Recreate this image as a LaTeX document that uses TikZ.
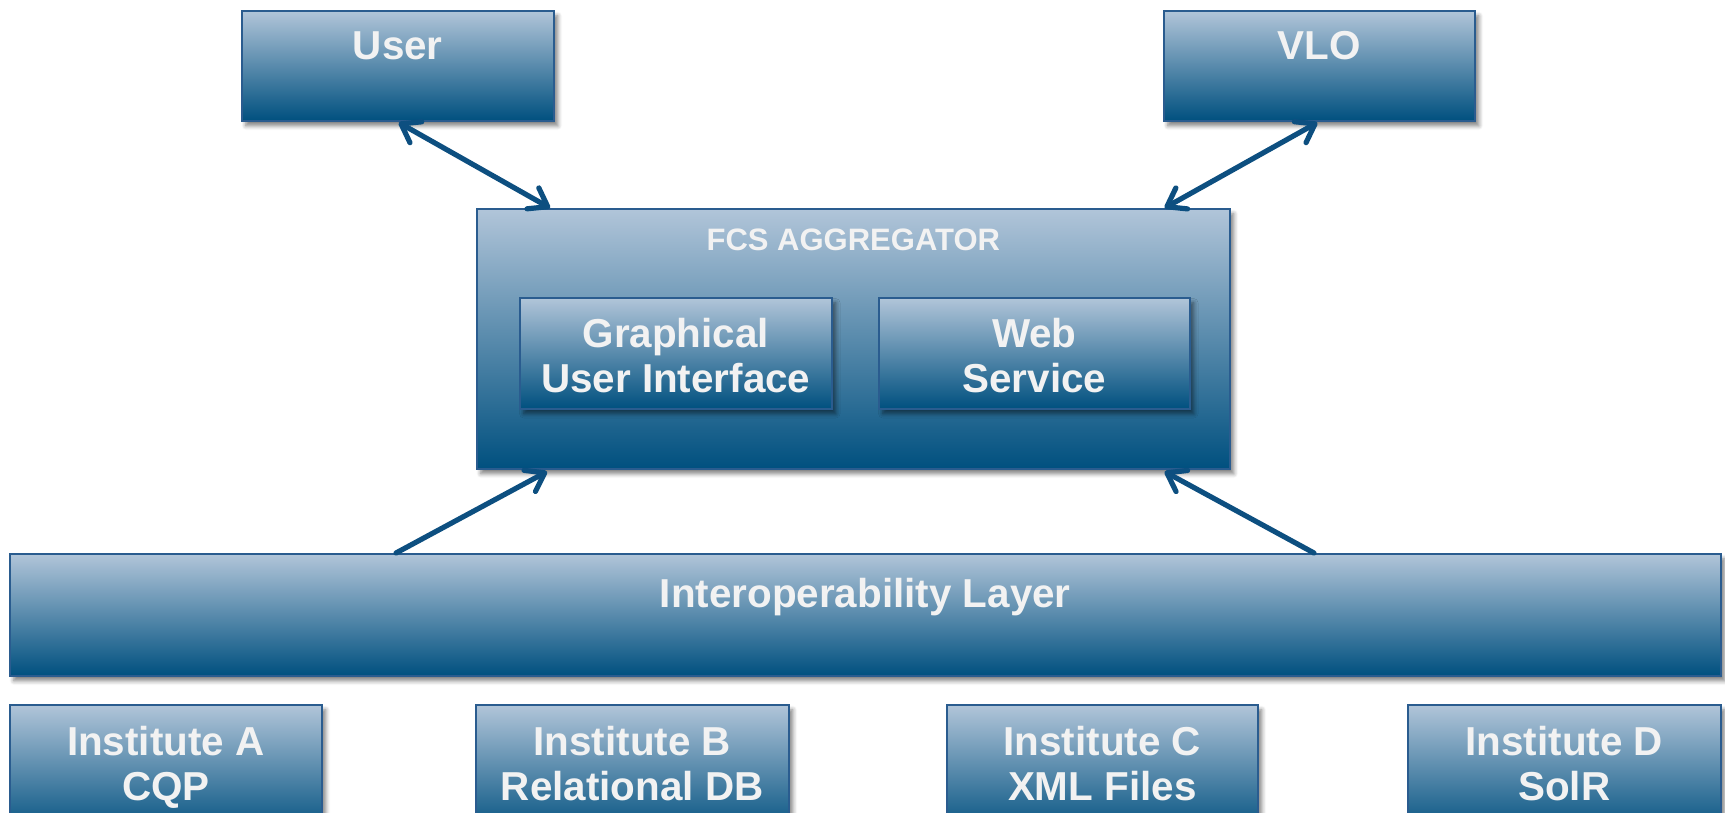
\documentclass[tikz,border=0pt]{standalone}
\usepackage{fontspec}
\setmainfont{Liberation Sans}
\usetikzlibrary{arrows.meta,shadows.blur,calc}
\definecolor{boxtop}{HTML}{B1C5D9}
\definecolor{boxbot}{HTML}{00507F}
\definecolor{boxline}{HTML}{2A5C8F}
\definecolor{arrowc}{HTML}{0D4F80}
\definecolor{txt}{HTML}{F2F2F2}
\begin{document}
\begin{tikzpicture}[x=0.5pt,y=-0.5pt,
  box/.style={draw=boxline, line width=0.8pt, top color=boxtop, bottom color=boxbot,
    anchor=north west, inner sep=0pt,
    blur shadow={shadow xshift=2pt, shadow yshift=-2.5pt, shadow blur steps=6, shadow opacity=50}},
  lbl/.style={text=txt, font=\bfseries\fontsize{20.2pt}{22.5pt}\selectfont,
    align=center, anchor=north, inner sep=0pt},
  smalllbl/.style={lbl, font=\bfseries\fontsize{15.5pt}{18pt}\selectfont},
  conn/.style={draw=arrowc, line width=2.6pt, line cap=round},
  barb/.tip={Straight Barb[length=8.5pt, width=12pt, line cap=round, line join=round]}
]
\useasboundingbox (0,0) rectangle (1725,813);

% boxes
\node[box, minimum width=156pt, minimum height=55pt] (user) at (241,10) {};
\node[box, minimum width=155.5pt, minimum height=55pt] (vlo) at (1163,10) {};
\node[box, minimum width=376.5pt, minimum height=130pt] (fcs) at (476,208) {};
\node[box, minimum width=156pt, minimum height=55.5pt] (gui) at (519,297) {};
\node[box, minimum width=155.5pt, minimum height=55.5pt] (ws) at (878,297) {};
\node[box, minimum width=855.5pt, minimum height=61pt] (inter) at (9,553) {};
\node[box, minimum width=156pt, minimum height=65pt] (ia) at (9,704) {};
\node[box, minimum width=156.5pt, minimum height=65pt] (ib) at (475,704) {};
\node[box, minimum width=155.5pt, minimum height=65pt] (ic) at (946,704) {};
\node[box, minimum width=156.5pt, minimum height=65pt] (id) at (1407,704) {};

% labels
\node[lbl] (userT) at ($(user.north)+(0,21)$) {User};
\node[lbl] (vloT) at ($(vlo.north)+(0,21)$) {VLO};
\node[smalllbl] (fcsT) at ($(fcs.north)+(0,20)$) {FCS AGGREGATOR};
\node[lbl] (guiT) at ($(gui.north)+(0,21)$) {Graphical\\User Interface};
\node[lbl] (wsT) at ($(ws.north)+(0,21)$) {Web\\Service};
\node[lbl] (interT) at ($(inter.north)+(0,25)$) {Interoperability Layer};
\node[lbl] (iaT) at ($(ia.north)+(0,22)$) {Institute A\\CQP};
\node[lbl] (ibT) at ($(ib.north)+(0,22)$) {Institute B\\Relational DB};
\node[lbl] (icT) at ($(ic.north)+(0,22)$) {Institute C\\XML Files};
\node[lbl] (idT) at ($(id.north)+(0,22)$) {Institute D\\SolR};

% connector end points
\coordinate (fcsA) at ($(fcs.north west)+(74,0)$);
\coordinate (fcsB) at ($(fcs.north east)+(-66,0)$);
\coordinate (fcsC) at ($(fcs.south west)+(71,2)$);
\coordinate (fcsD) at ($(fcs.south east)+(-66,2)$);
\coordinate (intA) at ($(inter.north west)+(387,0)$);
\coordinate (intB) at ($(inter.north west)+(1305,0)$);
\coordinate (userS) at ($(user.south)+(1,1)$);
\coordinate (vloS) at ($(vlo.south)+(-2,1)$);

% connectors
\draw[conn, barb-barb] (userS) -- (fcsA);
\draw[conn, barb-barb] (vloS) -- (fcsB);
\draw[conn, -barb] (intA) -- (fcsC);
\draw[conn, -barb] (intB) -- (fcsD);
\end{tikzpicture}
\end{document}
